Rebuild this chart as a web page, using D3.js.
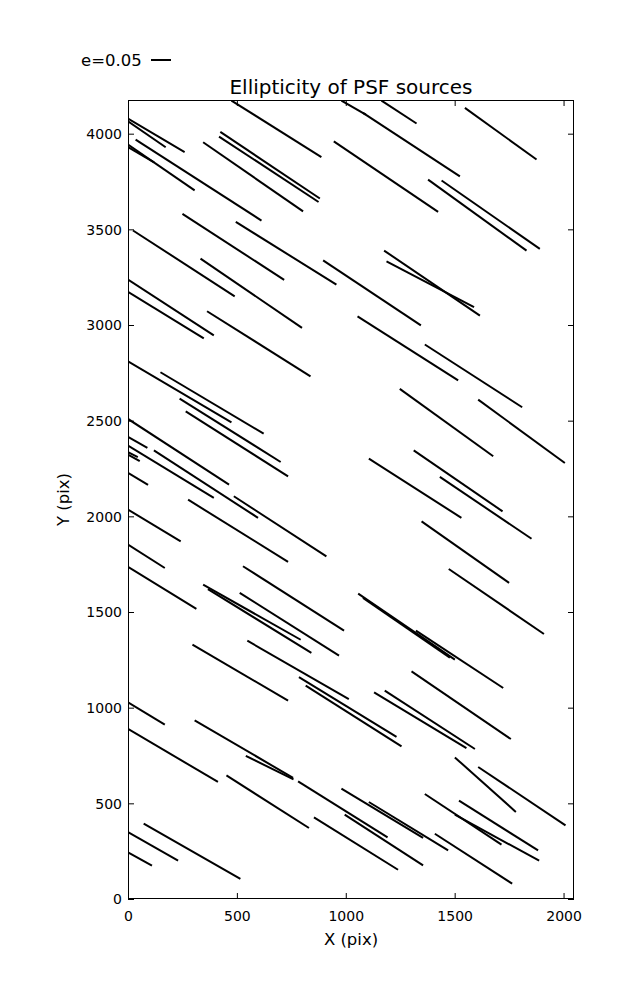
<!DOCTYPE html>
<html><head><meta charset="utf-8">
<script src="https://cdn.jsdelivr.net/npm/d3@7"></script>
<style>body{margin:0;background:#fff}svg{display:block;font-family:"DejaVu Sans",sans-serif}</style>
</head><body><svg id="c" width="637" height="1000"></svg>
<script>
// Whisker endpoints in data (pixel-on-CCD) units
const x0 = [475,980,1079,1164,1547,0,0,35,0,0,345,424,418,945,250,495,23,333,896,0,0,363,1378,1440,1176,1187,
  0,149,237,265,0,0,0,0,0,0,119,486,276,0,0,0,528,345,367,513,1054,1363,1248,1608,1312,1432,1106,1348,1473,
  1057,1079,1322,1302,1130,1179,548,296,785,816,0,0,306,541,452,854,72,0,0,980,1106,781,995,1363,1520,1501,1409,1501,1608];
const y0 = [4173,4173,4109,4173,4135,4079,4065,3969,3943,3930,3955,4009,3985,3960,3581,3539,3494,3347,3338,3237,3173,3072,3760,3755,3389,3333,
  2810,2753,2615,2549,2509,2415,2370,2323,2335,2227,2345,2105,2087,2035,1852,1736,1739,1643,1620,1600,3045,2898,2666,2610,2345,2206,2302,1974,1725,
  1596,1573,1403,1190,1080,1089,1350,1329,1160,1115,1028,889,934,748,646,427,394,350,244,577,507,615,441,549,514,441,341,740,690];
const x1 = [888,1092,1524,1325,1876,260,173,613,306,120,804,881,875,1424,717,957,490,799,1345,394,348,838,1830,1891,1616,1589,
  475,623,701,735,464,89,394,54,45,92,597,911,735,242,169,314,992,793,842,969,1516,1810,1677,2006,1720,1853,1531,1750,1910,
  1501,1478,1723,1758,1554,1593,1014,735,1233,1256,169,413,758,760,831,1240,516,230,110,1355,1470,1192,1355,1715,1883,1888,1764,1781,2009];
const y1 = [3877,4100,3777,4053,3865,3903,3929,3546,3704,3850,3594,3661,3643,3591,3236,3211,3150,2985,2998,2946,2930,2732,3389,3398,3049,3093,
  2491,2432,2284,2209,2166,2358,2096,2288,2310,2164,1992,1791,1762,1869,1730,1516,1403,1355,1286,1272,2711,2570,2314,2279,2026,1883,1992,1652,1385,
  1251,1261,1103,836,789,784,1045,1037,847,798,911,612,633,625,371,153,105,200,174,319,254,322,176,284,254,200,80,455,385];
const xTicks = [0,500,1000,1500,2000];
const yTicks = [0,500,1000,1500,2000,2500,3000,3500,4000];
const xDomain = [0,2048], yDomain = [0,4176];
const legendE = 0.05, legendPx = 20;

const svg = d3.select('#c');
const L=128, R=574, T=100, B=899;
const x = d3.scaleLinear().domain(xDomain).range([L,R]);
const y = d3.scaleLinear().domain(yDomain).range([B,T]);

svg.append('defs').append('clipPath').attr('id','clip')
  .append('rect').attr('x',L).attr('y',T).attr('width',R-L).attr('height',B-T);

const segs = x0.map((v,i)=>({x0:v,y0:y0[i],x1:x1[i],y1:y1[i]}));
svg.append('g').attr('clip-path','url(#clip)').selectAll('line').data(segs).join('line')
  .attr('x1',d=>x(d.x0)).attr('y1',d=>y(d.y0)).attr('x2',d=>x(d.x1)).attr('y2',d=>y(d.y1))
  .attr('stroke','#000').attr('stroke-width',2).attr('stroke-linecap','butt');

// axes with inward ticks on all sides
const fs=14;
const ax = svg.append('g').attr('transform',`translate(0,${B})`)
  .call(d3.axisBottom(x).tickValues(xTicks).tickFormat(d3.format('d')).tickSizeInner(-6).tickSizeOuter(0).tickPadding(12));
const axT = svg.append('g').attr('transform',`translate(0,${T})`)
  .call(d3.axisTop(x).tickValues(xTicks).tickFormat('').tickSizeInner(-6).tickSizeOuter(0));
const ay = svg.append('g').attr('transform',`translate(${L},0)`)
  .call(d3.axisLeft(y).tickValues(yTicks).tickFormat(d3.format('d')).tickSizeInner(-6).tickSizeOuter(0).tickPadding(6));
const ayR = svg.append('g').attr('transform',`translate(${R},0)`)
  .call(d3.axisRight(y).tickValues(yTicks).tickFormat('').tickSizeInner(-6).tickSizeOuter(0));
[ax,axT,ay,ayR].forEach(g=>{g.select('.domain').remove();
  g.selectAll('text').attr('font-size',fs).attr('font-family','DejaVu Sans').attr('fill','#000');
  g.selectAll('line').attr('stroke','#000');});
ay.selectAll('text').attr('dy','0.35em');

svg.append('rect').attr('x',L+0.5).attr('y',T+0.5).attr('width',R-L-1).attr('height',B-T-1)
  .attr('fill','none').attr('stroke','#000').attr('stroke-width',1);

svg.append('text').attr('x',(L+R)/2).attr('y',945).attr('text-anchor','middle').attr('font-size',16.5).text('X (pix)');
svg.append('text').attr('transform',`translate(69,${(T+B)/2}) rotate(-90)`).attr('text-anchor','middle').attr('font-size',16.5).text('Y (pix)');
svg.append('text').attr('x',(L+R)/2).attr('y',94).attr('text-anchor','middle').attr('font-size',20).text('Ellipticity of PSF sources');

// legend
svg.append('text').attr('x',81).attr('y',66).attr('font-size',16.5).text('e='+legendE.toFixed(2));
svg.append('line').attr('x1',151).attr('x2',151+legendPx).attr('y1',60).attr('y2',60).attr('stroke','#000').attr('stroke-width',2);
</script></body></html>
